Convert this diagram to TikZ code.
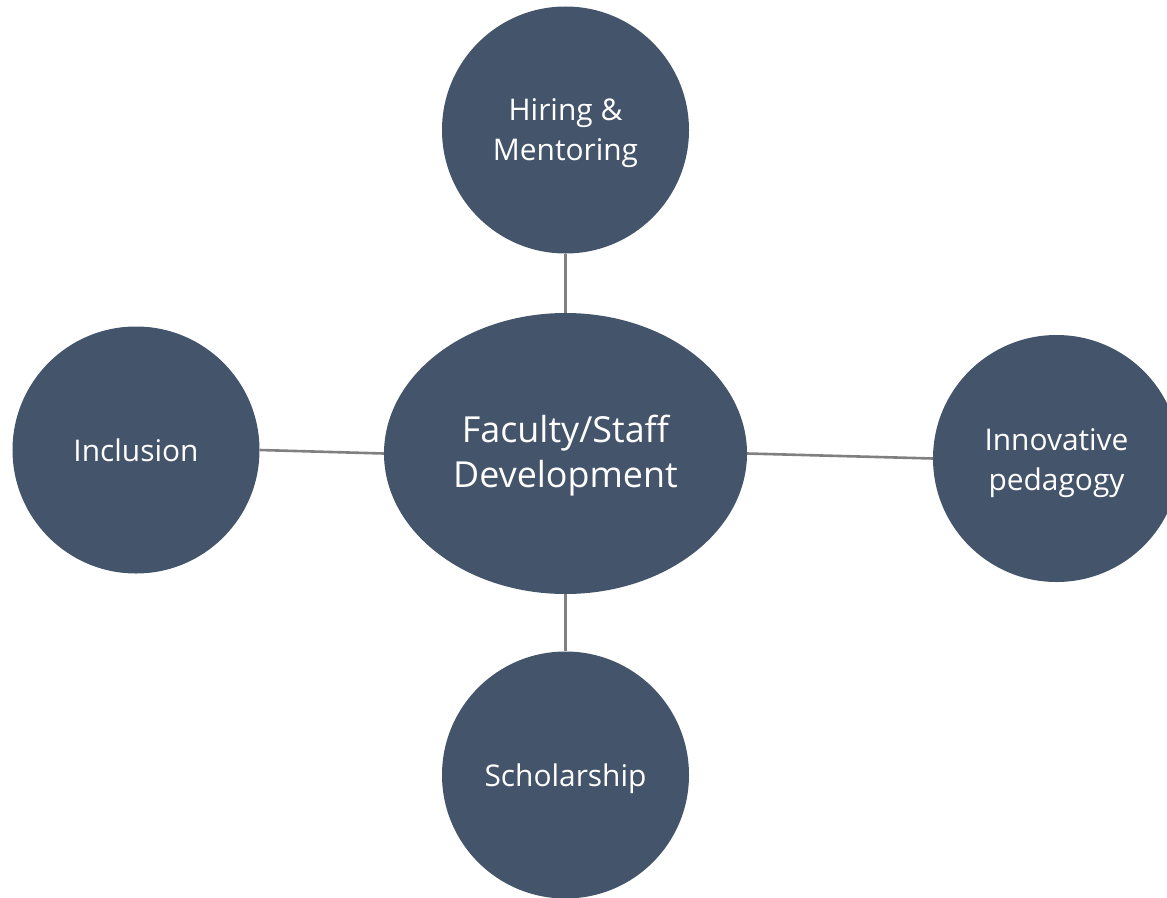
\documentclass[tikz,border=0pt]{standalone}
\usepackage{fontspec}
\setmainfont{Open Sans}
\usetikzlibrary{shapes.geometric}
\definecolor{nodeblue}{HTML}{44546A}
\definecolor{linkgray}{HTML}{808080}
\tikzset{
  bubble/.style={circle, fill=nodeblue, draw=none, minimum size=247bp, inner sep=0pt},
  hub/.style={ellipse, fill=nodeblue, draw=none, minimum width=363bp, minimum height=281bp,
    inner sep=0pt},
  smalltext/.style={text=white, align=center, font=\fontsize{30}{40}\selectfont, inner sep=0pt},
  bigtext/.style={text=white, align=center, font=\fontsize{36}{45}\selectfont, inner sep=0pt},
  link/.style={draw=linkgray, line width=2.6bp}
}
\begin{document}
\begin{tikzpicture}[x=1bp,y=-1bp]
\useasboundingbox (0,0) rectangle (1167,898);
\clip (0,0) rectangle (1167,898);
\node[hub] (fac) at (565.5,453.5) {};
\node[bubble] (hire) at (565.5,130) {};
\node[bubble] (incl) at (136,450) {};
\node[bubble] (innov) at (1056.5,458.5) {};
\node[bubble] (schol) at (565.5,775) {};
\node[bigtext, yshift=-2bp] (factxt) at (fac.center) {Faculty/Staff\\Development};
\node[smalltext, yshift=-3bp] (hiretxt) at (hire.center) {Hiring \&\\Mentoring};
\node[smalltext] (incltxt) at (incl.center) {Inclusion};
\node[smalltext, yshift=-5bp] (innovtxt) at (innov.center) {Innovative\\pedagogy};
\node[smalltext, yshift=-4bp] (scholtxt) at (schol.center) {Scholarship};
\draw[link] (hire.south) -- (fac.north);
\draw[link] (incl.east) -- (fac.west);
\draw[link] (fac.east) -- (innov.west);
\draw[link] (fac.south) -- (schol.north);
\end{tikzpicture}
\end{document}
